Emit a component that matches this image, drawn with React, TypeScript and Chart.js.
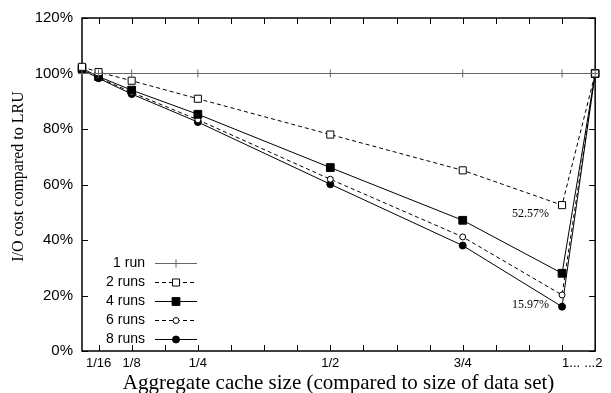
import React, { useEffect, useRef } from 'react';
import { Chart, registerables } from 'chart.js';

Chart.register(...registerables);

// x positions in units of 1/16 of the data set; 15 and 16 are the broken-axis slots for "1" and "2"
const X_POS = [0.5, 1, 2, 4, 8, 12, 15, 16];
const XTICK_VALUES = [1, 2, 3, 4, 5, 6, 7, 8, 9, 10, 11, 12, 13, 14, 15, 16];
const XTICK_LABELS = ['1/16', '1/8', '', '1/4', '', '', '', '1/2', '', '', '', '3/4', '', '', '     1...', '...2 '];

const RUN1 = [100, 100, 100, 100, 100, 100, 100, 100];
const RUN2 = [102.4, 100.5, 97.4, 90.9, 78.0, 65.1, 52.57, 100];
const RUN4 = [101.8, 98.9, 94.0, 85.3, 66.1, 47.1, 28.0, 100];
const RUN6 = [101.5, 98.5, 93.2, 83.3, 61.9, 41.1, 20.2, 100];
const RUN8 = [101.3, 98.3, 92.6, 82.5, 60.1, 38.0, 15.97, 100];

const SERIES_NAMES = ['1 run', '2 runs', '4 runs', '6 runs', '8 runs'];

const ANNOT_TEXT = ['52.57%', '15.97%'];
const ANNOT_VALUES = [52.57, 15.97];
const ANNOT_X = [15, 15];

const Y_MIN = 0;
const Y_MAX = 120;
const Y_STEP = 20;

const SANS = '"Liberation Sans", Arial, sans-serif';
const SERIF = '"Liberation Serif", "Times New Roman", serif';

type Style = { color: string; dash: number[]; point: string; radius: number; fill: string; width: number };
const STYLES: Style[] = [
  { color: '#666', dash: [], point: 'cross', radius: 4, fill: '#666', width: 1 },
  { color: '#000', dash: [4, 3], point: 'rect', radius: 5, fill: '#fff', width: 1 },
  { color: '#000', dash: [], point: 'rect', radius: 5.5, fill: '#000', width: 1 },
  { color: '#000', dash: [4, 3], point: 'circle', radius: 3, fill: '#fff', width: 1 },
  { color: '#000', dash: [], point: 'circle', radius: 3.5, fill: '#000', width: 1 },
];

function drawMarker(ctx: CanvasRenderingContext2D, s: Style, x: number, y: number) {
  ctx.save();
  ctx.setLineDash([]);
  ctx.lineWidth = 1;
  ctx.strokeStyle = s.color;
  ctx.fillStyle = s.fill;
  ctx.beginPath();
  if (s.point === 'cross') {
    ctx.moveTo(x - s.radius, y);
    ctx.lineTo(x + s.radius, y);
    ctx.moveTo(x, y - s.radius);
    ctx.lineTo(x, y + s.radius);
    ctx.stroke();
  } else if (s.point === 'rect') {
    const h = s.radius * Math.SQRT1_2;
    ctx.rect(x - h, y - h, 2 * h, 2 * h);
    ctx.fill();
    ctx.stroke();
  } else {
    ctx.arc(x, y, s.radius, 0, Math.PI * 2);
    ctx.fill();
    ctx.stroke();
  }
  ctx.restore();
}

const framePlugin = {
  id: 'frame',
  beforeDatasetsDraw(chart: any) {
    const { ctx, chartArea: a, scales } = chart;
    ctx.save();
    ctx.strokeStyle = '#000';
    ctx.lineWidth = 1;
    ctx.beginPath();
    const tl = 6;
    scales.x.ticks.forEach((t: any) => {
      const px = Math.round(scales.x.getPixelForValue(t.value)) + 0.5;
      ctx.moveTo(px, a.bottom);
      ctx.lineTo(px, a.bottom - tl);
      ctx.moveTo(px, a.top);
      ctx.lineTo(px, a.top + tl);
    });
    scales.y.ticks.forEach((t: any) => {
      const py = Math.round(scales.y.getPixelForValue(t.value)) + 0.5;
      ctx.moveTo(a.left, py);
      ctx.lineTo(a.left + tl, py);
      ctx.moveTo(a.right, py);
      ctx.lineTo(a.right - tl, py);
    });
    ctx.stroke();
    ctx.lineWidth = 1.5;
    ctx.strokeRect(a.left, a.top, a.right - a.left, a.bottom - a.top);
    ctx.restore();
  },
  afterDatasetsDraw(chart: any) {
    const { ctx, chartArea: a, scales } = chart;
    ctx.save();
    // legend
    ctx.font = `14px ${SANS}`;
    ctx.fillStyle = '#000';
    ctx.textAlign = 'right';
    ctx.textBaseline = 'middle';
    SERIES_NAMES.forEach((name, i) => {
      const y = a.top + 245 + i * 19;
      const tx = a.left + 63;
      ctx.fillText(name, tx, y);
      const s = STYLES[i];
      ctx.save();
      ctx.strokeStyle = s.color;
      ctx.lineWidth = 1;
      ctx.setLineDash(s.dash);
      ctx.beginPath();
      ctx.moveTo(a.left + 73, y + 0.5);
      ctx.lineTo(a.left + 115, y + 0.5);
      ctx.stroke();
      ctx.restore();
      drawMarker(ctx, s, a.left + 94, y + 0.5);
    });
    // annotations
    ctx.font = `12px ${SERIF}`;
    ctx.textAlign = 'right';
    const dys = [9, -2];
    ANNOT_TEXT.forEach((txt, i) => {
      const px = scales.x.getPixelForValue(ANNOT_X[i]) - 13;
      const py = scales.y.getPixelForValue(ANNOT_VALUES[i]) + dys[i];
      ctx.fillText(txt, px, py);
    });
    ctx.restore();
  },
};

export default function App() {
  const ref = useRef<HTMLCanvasElement | null>(null);
  useEffect(() => {
    document.body.style.margin = '0';
    const series = [RUN1, RUN2, RUN4, RUN6, RUN8];
    const datasets = series.map((vals, i) => {
      const s = STYLES[i];
      return {
        label: SERIES_NAMES[i],
        data: vals.map((v, j) => ({ x: X_POS[j], y: v })),
        borderColor: s.color,
        borderWidth: s.width,
        borderDash: s.dash,
        pointStyle: s.point,
        pointRadius: s.radius,
        pointBackgroundColor: s.fill,
        pointBorderColor: s.color,
        pointBorderWidth: 1,
        tension: 0,
        fill: false,
        clip: false as any,
      };
    });
    const chart = new Chart(ref.current as HTMLCanvasElement, {
      type: 'line',
      data: { datasets },
      options: {
        animation: false,
        responsive: true,
        maintainAspectRatio: false,
        layout: { padding: { top: 15, right: 12, left: 0, bottom: 0 } },
        plugins: { legend: { display: false }, tooltip: { enabled: false } },
        scales: {
          x: {
            type: 'linear',
            min: 0.5,
            max: 16,
            afterBuildTicks: (s: any) => {
              s.ticks = XTICK_VALUES.map((v) => ({ value: v }));
            },
            afterFit: (s: any) => {
              s.height = 42;
            },
            grid: { display: false, drawTicks: false },
            border: { display: false },
            ticks: {
              autoSkip: false,
              maxRotation: 0,
              padding: 5,
              color: '#000',
              font: { family: SANS, size: 13 },
              callback: (v: any) => XTICK_LABELS[XTICK_VALUES.indexOf(Number(v))] ?? '',
            },
            title: {
              display: true,
              text: 'Aggregate cache size (compared to size of data set)',
              color: '#000',
              font: { family: SERIF, size: 21 },
              padding: { top: 0, bottom: -3 },
            },
          },
          y: {
            min: Y_MIN,
            max: Y_MAX,
            afterFit: (s: any) => {
              s.width = 82;
            },
            grid: { display: false, drawTicks: false },
            border: { display: false },
            ticks: {
              stepSize: Y_STEP,
              padding: 9,
              color: '#000',
              font: { family: SANS, size: 15 },
              callback: (v: any) => `${v}%`,
            },
            title: {
              display: true,
              text: '    I/O cost compared to LRU',
              color: '#000',
              font: { family: SERIF, size: 16 },
              padding: { top: 9, bottom: 0 },
            },
          },
        },
      },
      plugins: [framePlugin],
    } as any);
    return () => chart.destroy();
  }, []);
  return (
    <div style={{ width: 611, height: 393, position: 'relative' }}>
      <canvas ref={ref} />
    </div>
  );
}
